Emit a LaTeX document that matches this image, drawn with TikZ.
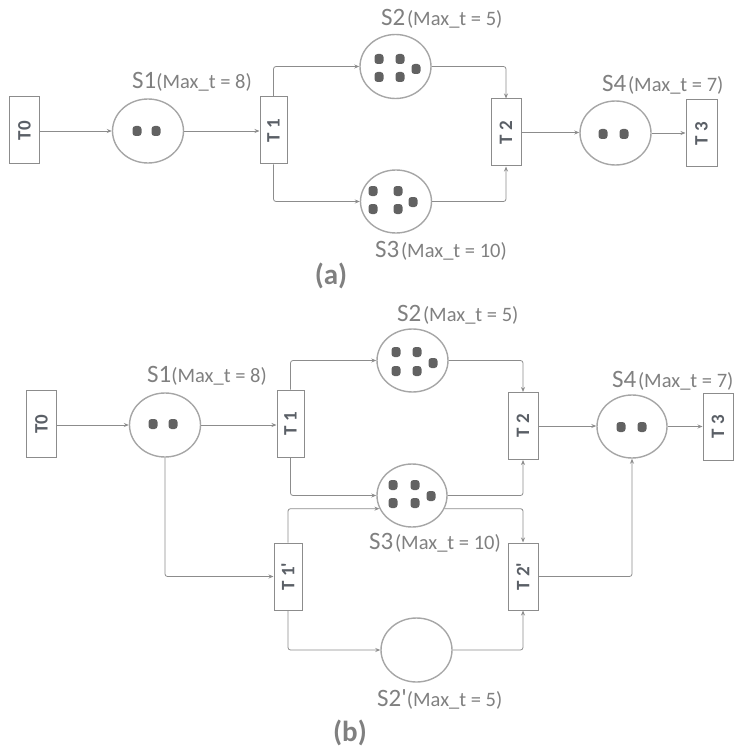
\documentclass[tikz,border=0pt]{standalone}
\usepackage{fontspec}
\setmainfont{Carlito}
\usetikzlibrary{shapes.geometric,arrows.meta,calc}
\definecolor{linec}{HTML}{8C8C8C}
\definecolor{placec}{HTML}{A6A6A6}
\definecolor{tokc}{HTML}{626262}
\definecolor{txtc}{HTML}{808080}
\definecolor{boxtxt}{HTML}{5A5F66}
\tikzset{
  trans/.style={draw=linec, line width=1pt, minimum width=30pt, minimum height=67pt, inner sep=0pt,
    font=\fontsize{19}{19}\selectfont\bfseries, text=boxtxt},
  place/.style={ellipse, draw=placec, line width=1.4pt, minimum width=71pt, minimum height=64pt, inner sep=0pt},
  tok/.style={rectangle, rounded corners=3pt, fill=tokc, minimum width=9pt, minimum height=10pt, inner sep=0pt},
  arr/.style={draw=linec, line width=0.8pt, -{Stealth[length=5pt,width=4pt]}, rounded corners=2.5pt},
  slabel/.style={anchor=base west, inner sep=0pt, text=txtc},
  caption/.style={inner sep=0pt, text=txtc, font=\fontsize{29}{29}\selectfont\bfseries},
}
\newcommand{\Sname}[1]{{\fontsize{25}{25}\selectfont #1}}
\newcommand{\Smax}[1]{{\fontsize{20.5}{20.5}\selectfont (Max\_t = #1)}}
\newcommand{\pr}{\textquotesingle}
\begin{document}
\begin{tikzpicture}[x=1pt,y=-1pt]
\useasboundingbox (0,0) rectangle (738,754);
% ---------------- (a) ----------------
\node[trans] (T0a) at (24.5,130.5) {\rotatebox{90}{T0}};
\node[place] (S1a) at (148,131) {};
\node[trans, minimum width=27pt] (T1a) at (273.5,130.5) {\rotatebox{90}{T 1}};
\node[place] (S2a) at (395.5,66.5) {};
\node[place, minimum height=63pt] (S3a) at (396,201.5) {};
\node[trans] (T2a) at (506,132.5) {\rotatebox{90}{T 2}};
\node[place] (S4a) at (615.5,133) {};
\node[trans, minimum width=31pt] (T3a) at (701.5,133.5) {\rotatebox{90}{T 3}};
% tokens
\node[tok] (a1) at (137,131) {};
\node[tok] (a2) at (156,131) {};
\node[tok] (a3) at (379,59) {};
\node[tok] (a4) at (400,59) {};
\node[tok] (a5) at (379,77) {};
\node[tok] (a6) at (400,77) {};
\node[tok] (a7) at (416,69) {};
\node[tok] (a8) at (373,191) {};
\node[tok] (a9) at (398,191) {};
\node[tok] (a10) at (373,209) {};
\node[tok] (a11) at (398,209) {};
\node[tok] (a12) at (413,202) {};
\node[tok] (a13) at (603,134) {};
\node[tok] (a14) at (624,134) {};
% labels
\node[slabel] (L1a) at (132,89) {\Sname{S1}\Smax{8}};
\node[slabel] (L2a) at (381,26) {\Sname{S2}\,\Smax{5}};
\node[slabel] (L3a) at (375,257) {\Sname{S3}\,\Smax{10}};
\node[slabel] (L4a) at (602,92) {\Sname{S4}\,\Smax{7}};
\node[caption] (capa) at (331,276) {(a)};
% arcs
\draw[arr] (T0a.east |- S1a.west) -- (S1a.west);
\draw[arr] (S1a.east) -- (T1a.west |- S1a.east);
\draw[arr] (T1a.north) |- (S2a.west);
\draw[arr] (T1a.south) |- (S3a.west);
\draw[arr] (S2a.east) -| (T2a.north);
\draw[arr] (S3a.east) -| (T2a.south);
\draw[arr] (T2a.east) -- (S4a.west |- T2a.east);
\draw[arr] (S4a.east) -- (T3a.west |- S4a.east);
% ---------------- (b) ----------------
\node[trans] (T0b) at (41.5,424) {\rotatebox{90}{T0}};
\node[place] (S1b) at (165,425) {};
\node[trans, minimum width=27pt] (T1b) at (290.5,423.5) {\rotatebox{90}{T 1}};
\node[trans, minimum width=28pt] (T1pb) at (288,576.5) {\rotatebox{90}{T 1\pr}};
\node[place, minimum height=63pt] (S2b) at (412.5,360.5) {};
\node[place, minimum width=70pt, minimum height=63pt] (S3b) at (412,495.5) {};
\node[place] (S2pb) at (416.5,650) {};
\node[trans] (T2b) at (523,426) {\rotatebox{90}{T 2}};
\node[trans] (T2pb) at (523,576.5) {\rotatebox{90}{T 2\pr}};
\node[place, minimum width=70pt, minimum height=63pt] (S4b) at (632,426.5) {};
\node[trans] (T3b) at (718,427) {\rotatebox{90}{T 3}};
% tokens
\node[tok] (b1) at (153,424) {};
\node[tok] (b2) at (173,424) {};
\node[tok] (b3) at (396,352) {};
\node[tok] (b4) at (417,352) {};
\node[tok] (b5) at (396,371) {};
\node[tok] (b6) at (417,371) {};
\node[tok] (b7) at (433,363) {};
\node[tok] (b8) at (393,485) {};
\node[tok] (b9) at (415,485) {};
\node[tok] (b10) at (393,503) {};
\node[tok] (b11) at (415,503) {};
\node[tok] (b12) at (431,496) {};
\node[tok] (b13) at (621,427) {};
\node[tok] (b14) at (642,427) {};
% labels
\node[slabel] (L1b) at (147,382) {\Sname{S1}\Smax{8}};
\node[slabel] (L2b) at (397,321) {\Sname{S2}\,\Smax{5}};
\node[slabel] (L3b) at (369,549) {\Sname{S3}\,\Smax{10}};
\node[slabel] (L4b) at (612,387) {\Sname{S4}\,\Smax{7}};
\node[slabel] (L2pb) at (377,706) {\Sname{S2\pr}\Smax{5}};
\node[caption] (capb) at (350,733) {(b)};
% arcs
\draw[arr] (T0b.east |- S1b.west) -- (S1b.west);
\draw[arr] (S1b.east) -- (T1b.west |- S1b.east);
\draw[arr] (S1b.south) |- (T1pb.west);
\draw[arr] (T1b.north) |- (S2b.west);
\draw[arr] (T1b.south) |- (S3b.west);
\draw[arr] (T1pb.north) |- (S3b.202);
\draw[arr] (T1pb.south) |- (S2pb.west);
\draw[arr] (S2b.east) -| (T2b.north);
\draw[arr] (S3b.east) -| (T2b.south);
\draw[arr] (S3b.-22) -| (T2pb.north);
\draw[arr] (S2pb.east) -| (T2pb.south);
\draw[arr] (T2b.east) -- (S4b.west |- T2b.east);
\draw[arr] (T2pb.east) -| (S4b.south);
\draw[arr] (S4b.east) -- (T3b.west |- S4b.east);
\end{tikzpicture}
\end{document}
